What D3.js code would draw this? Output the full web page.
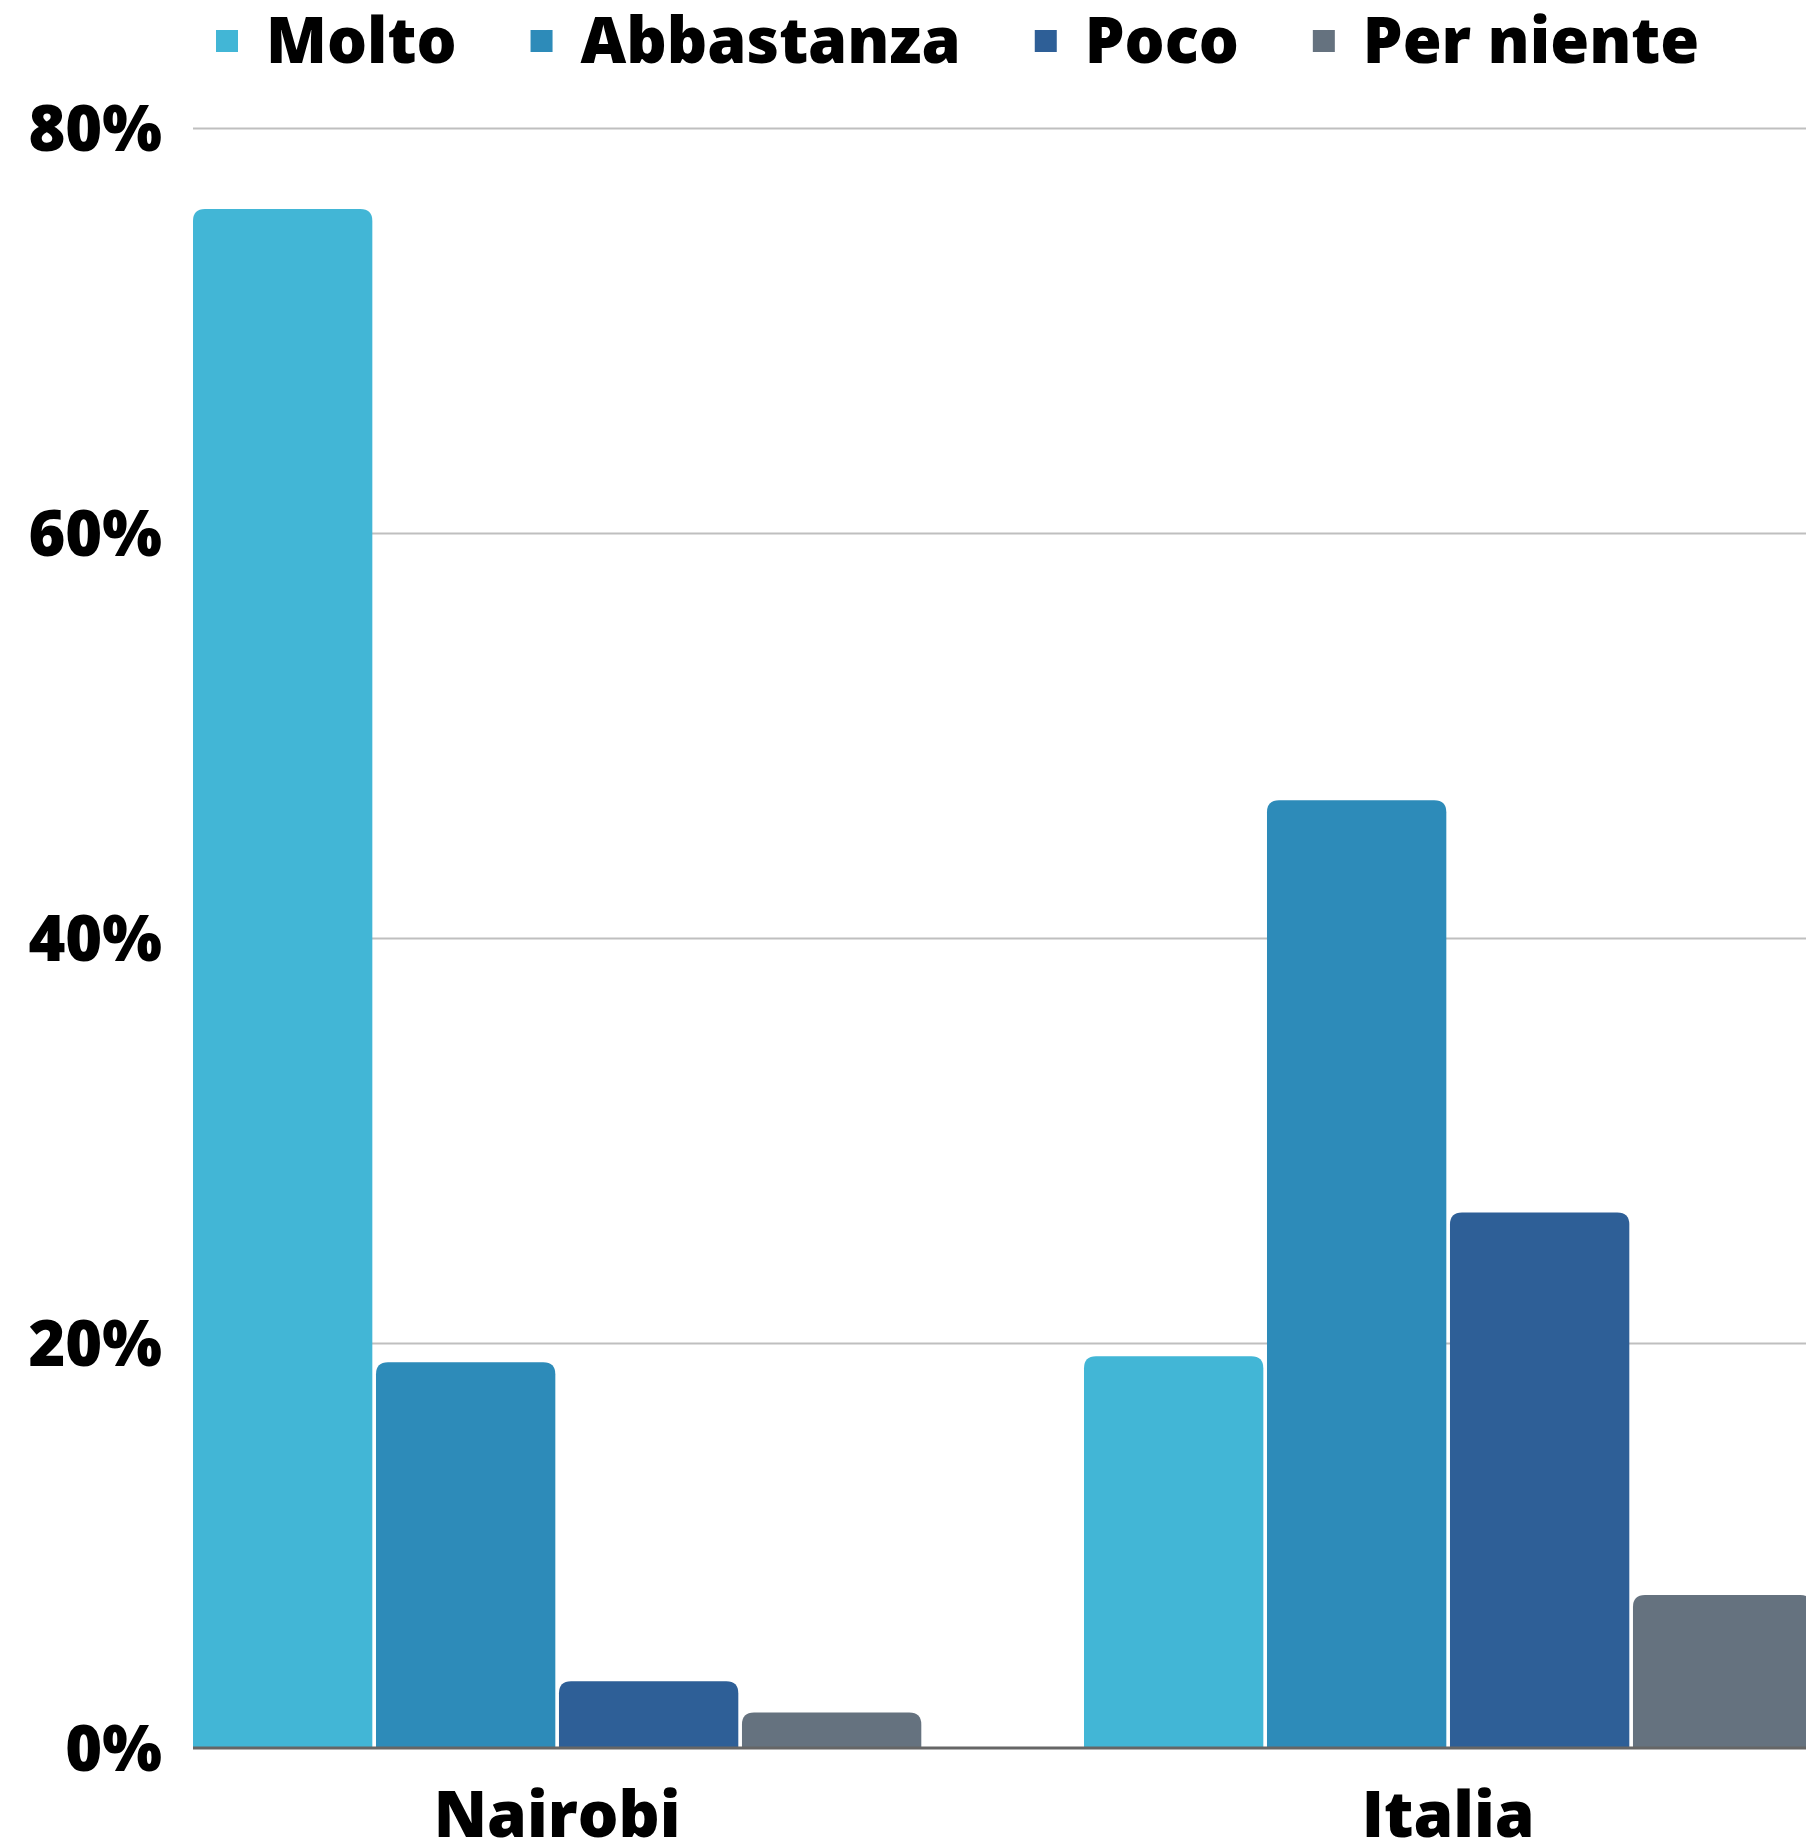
<!DOCTYPE html>
<html>
<head>
<meta charset="utf-8">
<script src="https://cdn.jsdelivr.net/npm/d3@7"></script>
<style>
  body { margin: 0; background: #fff; }
  text { font-family: "Open Sans", sans-serif; font-weight: 800; fill: #000; }
</style>
</head>
<body>
<svg class="chart"></svg>
<script>
// data
var categories = ["Nairobi", "Italia"];
var series = ["Molto", "Abbastanza", "Poco", "Per niente"];
var colors = ["#42b6d6", "#2d8bb9", "#2e5f97", "#65727f"];
var nairobi = [76.0, 19.05, 3.3, 1.75];
var italia = [19.35, 46.8, 26.45, 7.55];
var yTicks = [0, 20, 40, 60, 80];

var values = [nairobi, italia];

var width = 1806, height = 1847;
var plotLeft = 193, plotTop = 128, plotBottom = 1748;

var svg = d3.select(".chart")
    .attr("width", width)
    .attr("height", height);

var y = d3.scaleLinear()
    .domain([0, 80])
    .range([plotBottom, plotTop]);

var x0 = d3.scaleBand()
    .domain(categories)
    .range([plotLeft, 1812.3])
    .paddingInner(0.1826)
    .paddingOuter(0);

var x1 = d3.scaleBand()
    .domain(series)
    .range([0, x0.bandwidth()])
    .paddingInner(0.02)
    .paddingOuter(0);

var color = d3.scaleOrdinal().domain(series).range(colors);

// gridlines + y labels
var yAxis = svg.append("g")
    .attr("transform", "translate(" + plotLeft + ",0)")
    .call(d3.axisLeft(y)
      .tickValues(yTicks)
      .tickSize(-(width - plotLeft))
      .tickPadding(31)
      .tickFormat(function(d) { return d + "%"; }));
yAxis.select(".domain").remove();
yAxis.selectAll("line")
    .attr("stroke", "#bfbfbf")
    .attr("stroke-width", 2)
    .filter(function(d) { return d === 0; }).remove();
yAxis.selectAll("text")
    .attr("dy", "0.36em")
    .style("font-size", "63px")
    .style("font-family", "'Open Sans', sans-serif")
    .style("font-weight", 800)
    .attr("fill", "#000");

// bars with rounded tops
function barPath(x, w, yt, yb, r) {
  r = Math.min(r, (yb - yt), w / 2);
  return "M" + x + "," + yb +
    "V" + (yt + r) +
    "Q" + x + "," + yt + " " + (x + r) + "," + yt +
    "H" + (x + w - r) +
    "Q" + (x + w) + "," + yt + " " + (x + w) + "," + (yt + r) +
    "V" + yb + "Z";
}

var groups = svg.selectAll("g.cat")
    .data(categories)
    .enter().append("g")
    .attr("class", "cat")
    .attr("transform", function(d) { return "translate(" + x0(d) + ",0)"; });

groups.selectAll("path")
    .data(function(d, i) {
      return series.map(function(s, j) { return { key: s, value: values[i][j] }; });
    })
    .enter().append("path")
    .attr("fill", function(d) { return color(d.key); })
    .attr("d", function(d) {
      return barPath(x1(d.key), x1.bandwidth(), y(d.value), y(0), 12);
    });

// baseline
svg.append("line")
    .attr("x1", plotLeft).attr("x2", width)
    .attr("y1", y(0)).attr("y2", y(0))
    .attr("stroke", "#666")
    .attr("stroke-width", 3);

// category labels
var xAxis = svg.append("g")
    .attr("transform", "translate(0," + y(0) + ")")
    .call(d3.axisBottom(x0).tickSize(0).tickPadding(44));
xAxis.select(".domain").remove();
xAxis.selectAll("text")
    .style("font-size", "64px")
    .style("font-family", "'Open Sans', sans-serif")
    .style("font-weight", 800)
    .attr("fill", "#000");

// legend
var legend = svg.append("g");
var lx = 216;
series.forEach(function(s) {
  legend.append("rect")
      .attr("x", lx).attr("y", 30)
      .attr("width", 22).attr("height", 22)
      .attr("fill", color(s));
  var t = legend.append("text")
      .attr("x", lx + 50).attr("y", 63)
      .style("font-size", "63px")
      .text(s);
  lx += 50 + t.node().getComputedTextLength() + 74;
});
</script>
</body>
</html>
